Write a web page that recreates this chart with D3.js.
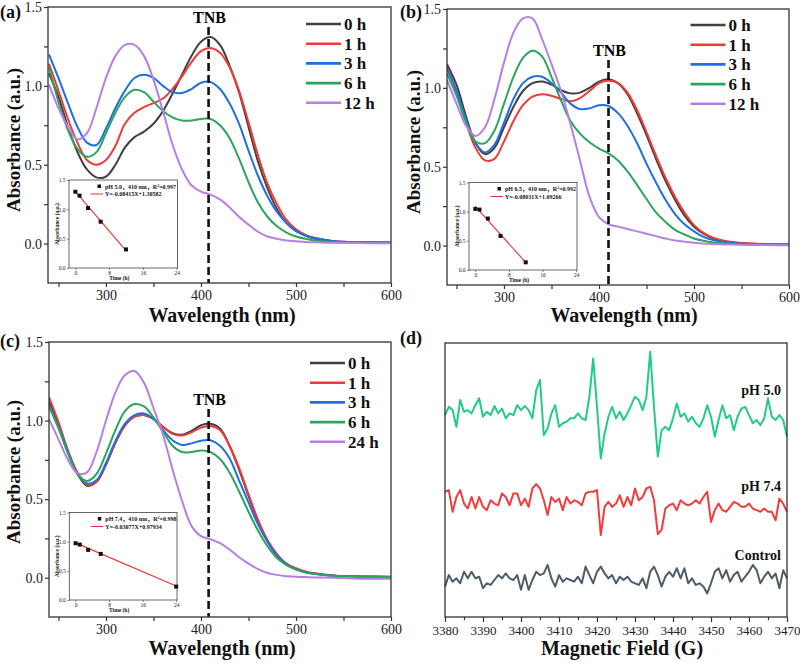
<!DOCTYPE html>
<html><head><meta charset="utf-8">
<script src="https://cdn.jsdelivr.net/npm/d3@7"></script>
<style>body{margin:0;background:#fff}svg{display:block}svg text{font-family:'Liberation Serif','DejaVu Serif',serif}</style>
</head><body><svg id="chart" width="800" height="663"></svg>
<script>
// ---------- DATA ----------
const wavelengths = [240,250,260,270,280,290,300,310,320,330,340,350,360,370,380,390,400,410,420,430,440,450,460,470,480,490,500,510,520,540,560,580,600];
const labelsAB = ["0 h","1 h","3 h","6 h","12 h"];
const labelsC  = ["0 h","1 h","3 h","6 h","24 h"];
const seriesColors = ["#404040","#f03a3a","#1f6fe0","#2aa55c","#b77fe6"];

// panel (a) pH 5.0
const a0h  = [1.08,0.93,0.74,0.58,0.47,0.42,0.425,0.50,0.61,0.675,0.71,0.76,0.84,0.95,1.07,1.19,1.28,1.31,1.26,1.13,0.96,0.74,0.52,0.35,0.22,0.13,0.08,0.05,0.03,0.015,0.01,0.008,0.007];
const a1h  = [1.14,0.97,0.79,0.64,0.53,0.50,0.53,0.62,0.76,0.83,0.865,0.89,0.92,0.98,1.06,1.15,1.22,1.24,1.21,1.12,0.97,0.77,0.56,0.38,0.25,0.15,0.09,0.055,0.035,0.015,0.01,0.008,0.007];
const a3h  = [1.20,1.05,0.89,0.74,0.64,0.625,0.73,0.86,0.97,1.05,1.07,1.05,1.00,0.96,0.955,0.98,1.02,1.025,0.98,0.89,0.76,0.59,0.43,0.30,0.20,0.13,0.08,0.05,0.035,0.015,0.01,0.008,0.007];
const a6h  = [1.12,0.90,0.72,0.60,0.55,0.58,0.70,0.83,0.93,0.975,0.96,0.90,0.84,0.80,0.78,0.78,0.79,0.79,0.75,0.67,0.54,0.39,0.26,0.17,0.11,0.07,0.045,0.03,0.02,0.01,0.008,0.007,0.006];
const a12h = [1.01,0.86,0.74,0.66,0.70,0.86,1.05,1.19,1.26,1.26,1.19,1.04,0.84,0.63,0.47,0.37,0.33,0.31,0.28,0.23,0.17,0.12,0.075,0.045,0.03,0.02,0.015,0.01,0.008,0.005,0.003,0.002,0.002];

// panel (b) pH 6.5
const b0h  = [1.15,1.02,0.82,0.65,0.58,0.62,0.75,0.88,0.98,1.03,1.04,1.02,0.985,0.965,0.97,1.00,1.04,1.055,1.03,0.96,0.84,0.70,0.55,0.41,0.29,0.19,0.12,0.075,0.045,0.02,0.012,0.008,0.006];
const b1h  = [1.13,0.98,0.78,0.62,0.54,0.55,0.66,0.79,0.89,0.945,0.96,0.95,0.93,0.915,0.935,0.98,1.03,1.045,1.03,0.97,0.86,0.72,0.57,0.43,0.31,0.21,0.13,0.08,0.05,0.022,0.013,0.009,0.007];
const b3h  = [1.12,0.98,0.80,0.65,0.59,0.64,0.78,0.93,1.03,1.07,1.07,1.03,0.97,0.90,0.865,0.87,0.89,0.885,0.84,0.76,0.65,0.52,0.40,0.29,0.20,0.135,0.09,0.055,0.035,0.017,0.01,0.007,0.006];
const b6h  = [1.09,0.95,0.78,0.66,0.65,0.73,0.90,1.07,1.19,1.235,1.20,1.07,0.92,0.79,0.71,0.655,0.615,0.585,0.54,0.47,0.385,0.295,0.21,0.15,0.10,0.07,0.045,0.03,0.02,0.012,0.008,0.006,0.005];
const b12h = [1.05,0.90,0.76,0.695,0.75,0.93,1.16,1.35,1.44,1.44,1.31,1.15,0.98,0.77,0.54,0.31,0.18,0.135,0.12,0.105,0.09,0.075,0.06,0.045,0.032,0.025,0.018,0.013,0.01,0.006,0.004,0.003,0.002];

// panel (c) pH 7.4
const c0h  = [1.12,0.97,0.80,0.66,0.585,0.61,0.72,0.86,0.97,1.025,1.035,1.01,0.96,0.92,0.91,0.935,0.97,0.98,0.95,0.84,0.69,0.52,0.36,0.23,0.14,0.085,0.055,0.035,0.025,0.012,0.008,0.006,0.005];
const c1h  = [1.15,0.99,0.81,0.67,0.59,0.61,0.72,0.86,0.97,1.025,1.035,1.01,0.96,0.915,0.905,0.925,0.955,0.965,0.94,0.84,0.70,0.53,0.37,0.24,0.15,0.09,0.06,0.04,0.028,0.014,0.009,0.007,0.006];
const c3h  = [1.10,0.96,0.80,0.66,0.60,0.62,0.73,0.87,0.98,1.035,1.045,1.01,0.94,0.875,0.845,0.855,0.872,0.875,0.84,0.76,0.62,0.48,0.34,0.23,0.14,0.085,0.055,0.035,0.025,0.012,0.008,0.006,0.005];
const c6h  = [1.09,0.95,0.79,0.66,0.615,0.66,0.79,0.94,1.06,1.105,1.09,1.02,0.93,0.84,0.80,0.80,0.81,0.80,0.755,0.67,0.55,0.42,0.30,0.20,0.125,0.08,0.052,0.034,0.024,0.012,0.008,0.006,0.005];
const c24h = [1.01,0.88,0.75,0.665,0.67,0.80,1.00,1.18,1.29,1.315,1.24,1.08,0.91,0.69,0.49,0.33,0.265,0.245,0.22,0.18,0.13,0.09,0.055,0.03,0.018,0.01,0.006,0.004,0.002,0.0,-0.005,-0.006,-0.006];

const tnbWavelengths = [408, 410, 408];

// insets (absorbance at 410 nm vs time)
const insetTimesAB = [0,1,3,6,12];
const insetTimesC  = [0,1,3,6,24];
const insetA = [1.30,1.233,1.022,0.789,0.317];
const insetB = [1.047,1.036,0.882,0.584,0.132];
const insetC = [0.973,0.950,0.859,0.790,0.23];
const fitSlopes = [-0.08415,-0.08031,-0.03077];
const fitIntercepts = [1.30582,1.09266,0.97934];
const insetLegend1 = [["pH 5.0，410 nm，R","2","=0.997"],["pH 6.5，410 nm，R","2","=0.992"],["pH 7.4，410 nm，R","2","=0.998"]];
const insetLegend2 = ["Y=-0.08415X+1.30582","Y=-0.08031X+1.09266","Y=-0.03077X+0.97934"];

// panel (d) EPR
const eprFields = d3.range(3380, 3471, 1);
const eprPH50 = [-0.6,2.4,1.2,-4.9,4.9,0.6,1.2,0,3.0,5.5,-1.2,0.6,-0.6,2.7,0,1.8,-1.8,0,-0.6,3.0,1.2,2.7,1.2,-1.8,8.5,12.2,-8.0,-5.5,0,3.0,-4.9,-3.6,-3.0,-1.8,-1.8,0,-1.8,-2.4,6.1,20.0,2.4,-16.4,-7.3,-1.2,2.4,-1.8,0.6,-2.4,0,3.0,6.1,4.9,1.2,6.1,22.5,2.4,-15.8,-6.1,-4.9,-6.1,-1.8,3.6,-1.2,0,-3.0,-1.2,-3.6,-4.9,-1.8,3.0,-1.2,-8.5,-2.4,3.0,-1.8,-0.6,-6.1,-1.2,1.8,2.4,-0.6,-3.6,-2.4,-4.3,-1.8,5.5,-1.2,-2.4,-0.6,-2.4,-8.5];
const eprPH74 = [4.9,5.5,-2.4,3.0,5.5,0.6,-1.2,3.0,-1.2,3.0,-0.6,-1.8,1.8,0.6,0,4.3,3.0,0,4.3,4.3,0,2.4,-0.6,6.1,7.7,6.1,1.8,-3.6,3.0,1.2,2.4,-1.8,3.0,0.6,1.8,1.2,0,4.3,4.9,4.9,5.5,-10.9,-0.6,1.2,-0.6,0.6,3.6,-0.6,3.0,0,6.1,1.8,3.0,6.1,6.7,1.8,-10.5,-9.0,-1.2,0,0.6,-1.8,1.8,0.6,0,0.6,1.8,0.6,3.0,4.9,-6.1,-1.8,0.6,-1.8,-2.4,-0.6,1.2,0.6,-0.6,-0.6,0.6,-1.2,-1.8,-2.4,-1.2,-2.4,-2.4,-5.5,2.4,0.6,-2.4];
const eprControl = [-2.4,1.8,-0.6,0.6,-1.2,3.0,0.6,3.0,0.6,1.2,-3.0,-1.2,-1.8,0,1.8,0.6,2.4,0.6,0,1.8,-3.6,1.8,-3.6,0,3.0,1.8,2.4,5.5,0.6,-2.4,1.8,-0.6,0.6,0,-0.6,1.2,-1.2,4.9,1.8,-1.2,3.0,4.9,2.4,0.6,1.8,-1.2,1.2,0,1.2,-0.6,-1.2,-1.8,0.6,-3.0,3.0,4.9,1.8,-2.4,1.2,3.0,1.2,4.3,0.6,4.3,-1.2,0.6,-1.8,-1.2,-2.4,-4.9,-1.2,3.0,4.3,0.6,3.6,-0.6,1.8,3.0,-0.6,1.2,3.0,5.5,3.6,-1.2,1.2,3.0,0.6,2.4,-3.0,3.6,0.6];
const eprLabels = ["pH 5.0","pH 7.4","Control"];
const eprOffsets = [74.3, 40.8, 13.5];
const eprColors = ["#22cc88","#f23c3c","#4e5c68"];
const eprTicks = [3380,3390,3400,3410,3420,3430,3440,3450,3460,3470];

// ---------- DRAWING ----------
const SERIF = "'Liberation Serif','DejaVu Serif',serif";
const CJK = "'Liberation Serif','Noto Sans CJK SC','DejaVu Serif',serif";
const svg = d3.select("#chart");
svg.append("rect").attr("width",800).attr("height",663).attr("fill","#fff");

function styleAxis(g, fs){
  g.attr("font-family",null);
  g.select(".domain").remove();
  g.selectAll(".tick line").attr("stroke","#333").attr("stroke-width",1.2);
  g.selectAll(".tick text").style("font-family",SERIF).style("font-size",fs+"px").attr("fill","#222");
}
function txt(g){ return g.append("text").style("font-family",SERIF); }

function spectrumPanel(p){
  const g = svg.append("g");
  const x = d3.scaleLinear().domain(p.xDomain).range([p.left,p.right]);
  const y = d3.scaleLinear().domain([-0.25,1.5]).range([p.bottom,p.top]);
  const major = new Set([300,400,500,600]);
  g.append("g").attr("transform",`translate(0,${p.bottom})`)
    .call(d3.axisBottom(x).tickValues([250,300,350,400,450,500,550,600]).tickSize(4).tickSizeOuter(0).tickPadding(3)
      .tickFormat(d=>major.has(d)?d:""))
    .call(a=>styleAxis(a,14));
  g.append("g").attr("transform",`translate(${p.left},0)`)
    .call(d3.axisLeft(y).tickValues([0,0.25,0.5,0.75,1.0,1.25,1.5]).tickSize(4).tickSizeOuter(0).tickPadding(2)
      .tickFormat(d=>(Math.round(d*100)%50===0)?d.toFixed(1):""))
    .call(a=>styleAxis(a,14));
  const clipId = "clip"+p.id;
  svg.append("clipPath").attr("id",clipId).append("rect")
    .attr("x",p.left).attr("y",p.top).attr("width",p.right-p.left).attr("height",p.bottom-p.top);
  const line = d3.line().x((d,i)=>x(wavelengths[i])).y(d=>y(d)).curve(d3.curveCatmullRom.alpha(0.5));
  const cg = g.append("g").attr("clip-path",`url(#${clipId})`);
  p.series.forEach((s,i)=>{
    cg.append("path").attr("d",line(s)).attr("fill","none").attr("stroke",seriesColors[i]).attr("stroke-width",2);
  });
  g.append("line").attr("x1",x(p.tnb)).attr("x2",x(p.tnb)).attr("y1",p.tnbTop).attr("y2",p.bottom)
    .attr("stroke","#111").attr("stroke-width",2.6).attr("stroke-dasharray","8,4");
  txt(g).attr("x",x(p.tnb)+1).attr("y",p.tnbTextY).attr("text-anchor","middle")
    .attr("font-weight","bold").attr("font-size",16).text("TNB");
  g.append("rect").attr("x",p.left).attr("y",p.top).attr("width",p.right-p.left).attr("height",p.bottom-p.top)
    .attr("fill","none").attr("stroke","#333").attr("stroke-width",1.3);
  p.labels.forEach((lab,i)=>{
    const yy = p.legY + i*19.7;
    g.append("line").attr("x1",p.legX).attr("x2",p.legX+35).attr("y1",yy).attr("y2",yy)
      .attr("stroke",seriesColors[i]).attr("stroke-width",2.6);
    txt(g).attr("x",p.legX+38).attr("y",yy+6).attr("font-weight","bold")
      .attr("font-size",17).attr("fill","#111").text(lab);
  });
  txt(g).attr("transform",`translate(${p.yTitleX},${p.yTitleY}) rotate(-90)`).attr("text-anchor","middle")
    .attr("font-weight","bold").attr("font-size",19).attr("fill","#111").text("Absorbance (a.u.)");
  txt(g).attr("x",p.xTitleX).attr("y",p.xTitleY).attr("text-anchor","middle")
    .attr("font-weight","bold").attr("font-size",20).attr("fill","#111").text("Wavelength (nm)");
  txt(g).attr("x",p.tagX).attr("y",p.tagY).attr("font-weight","bold")
    .attr("font-size",18).attr("fill","#111").text(p.tag);
}

function insetPanel(p){
  const g = svg.append("g");
  const x = d3.scaleLinear().domain([-1.5,24.2]).range([p.left,p.right]);
  const y = d3.scaleLinear().domain([0,1.5]).range([p.bottom,p.top]);
  g.append("rect").attr("x",p.left).attr("y",p.top).attr("width",p.right-p.left).attr("height",p.bottom-p.top)
    .attr("fill","#fff").attr("stroke","#444").attr("stroke-width",0.8);
  g.append("g").attr("transform",`translate(0,${p.bottom})`)
    .call(d3.axisBottom(x).tickValues([0,8,16,24]).tickSize(2).tickSizeOuter(0).tickPadding(1.5))
    .call(a=>styleAxis(a,5.5)).call(a=>a.selectAll(".tick line").attr("stroke-width",0.6));
  g.append("g").attr("transform",`translate(${p.left},0)`)
    .call(d3.axisLeft(y).tickValues([0,0.5,1.0,1.5]).tickSize(2).tickSizeOuter(0).tickPadding(1.5).tickFormat(d3.format(".1f")))
    .call(a=>styleAxis(a,5.5)).call(a=>a.selectAll(".tick line").attr("stroke-width",0.6));
  const tMax = d3.max(p.times);
  g.append("line").attr("x1",x(0)).attr("x2",x(tMax)).attr("y1",y(p.b)).attr("y2",y(p.b+p.k*tMax))
    .attr("stroke","#f03030").attr("stroke-width",1.1);
  g.selectAll("rect.pt").data(p.values).join("rect").attr("class","pt")
    .attr("x",(d,i)=>x(p.times[i])-2).attr("y",d=>y(d)-2).attr("width",4).attr("height",4).attr("fill","#111");
  g.append("rect").attr("x",p.left+28.5).attr("y",p.top+4.5).attr("width",3.5).attr("height",3.5).attr("fill","#111");
  const t1 = g.append("text").attr("x",p.left+36).attr("y",p.top+8.5).style("font-family",CJK).attr("font-weight","bold").attr("font-size",6).attr("fill","#111");
  t1.append("tspan").text(p.leg1[0]);
  t1.append("tspan").attr("dy",-2).attr("font-size",4).text(p.leg1[1]);
  t1.append("tspan").attr("dy",2).text(p.leg1[2]);
  g.append("line").attr("x1",p.left+21.5).attr("x2",p.left+34).attr("y1",p.top+14).attr("y2",p.top+14)
    .attr("stroke","#f03030").attr("stroke-width",1);
  txt(g).attr("x",p.left+36).attr("y",p.top+16).attr("font-weight","bold")
    .attr("font-size",6).attr("fill","#111").text(p.leg2);
  txt(g).attr("transform",`translate(${p.left-10},${(p.top+p.bottom)/2}) rotate(-90)`).attr("text-anchor","middle")
    .attr("font-weight","bold").attr("font-size",5.5).attr("fill","#111").text("Absorbance (a.u.)");
  txt(g).attr("x",(p.left+p.right)/2-4).attr("y",p.bottom+12).attr("text-anchor","middle")
    .attr("font-weight","bold").attr("font-size",5.5).attr("fill","#111").text("Time (h)");
}

spectrumPanel({id:"a",left:48,right:391,top:7,bottom:283,xDomain:[239,600],series:[a0h,a1h,a3h,a6h,a12h],labels:labelsAB,
  tnb:tnbWavelengths[0],tnbTop:27,tnbTextY:23,legX:306,legY:24,yTitleX:20,yTitleY:140,xTitleX:222,xTitleY:322,tag:"(a)",tagX:0,tagY:18});
spectrumPanel({id:"b",left:447,right:789,top:9,bottom:285,xDomain:[240,600],series:[b0h,b1h,b3h,b6h,b12h],labels:labelsAB,
  tnb:tnbWavelengths[1],tnbTop:60,tnbTextY:56,legX:690.5,legY:25,yTitleX:420,yTitleY:142,xTitleX:624,xTitleY:322,tag:"(b)",tagX:400,tagY:18});
spectrumPanel({id:"c",left:49,right:391,top:342,bottom:617,xDomain:[240,600],series:[c0h,c1h,c3h,c6h,c24h],labels:labelsC,
  tnb:tnbWavelengths[2],tnbTop:409,tnbTextY:405,legX:310,legY:363,yTitleX:20,yTitleY:472,xTitleX:222,xTitleY:655,tag:"(c)",tagX:0,tagY:347});

insetPanel({left:69,right:177.5,top:180,bottom:268,times:insetTimesAB,values:insetA,k:fitSlopes[0],b:fitIntercepts[0],leg1:insetLegend1[0],leg2:insetLegend2[0]});
insetPanel({left:469,right:577,top:182.5,bottom:270,times:insetTimesAB,values:insetB,k:fitSlopes[1],b:fitIntercepts[1],leg1:insetLegend1[1],leg2:insetLegend2[1]});
insetPanel({left:69.3,right:177,top:512.5,bottom:600,times:insetTimesC,values:insetC,k:fitSlopes[2],b:fitIntercepts[2],leg1:insetLegend1[2],leg2:insetLegend2[2]});

// panel (d)
(function(){
  const L=445,R=787,T=343,B=617;
  const g = svg.append("g");
  const x = d3.scaleLinear().domain([3380,3470]).range([L,R]);
  const y = d3.scaleLinear().domain([0,100]).range([B,T]);
  const minor = d3.range(3385,3470,10);
  g.append("g").attr("transform",`translate(0,${B})`)
    .call(d3.axisBottom(x).tickValues(minor).tickSize(3).tickSizeOuter(0).tickFormat(""))
    .call(a=>styleAxis(a,13));
  g.append("g").attr("transform",`translate(0,${B})`)
    .call(d3.axisBottom(x).tickValues(eprTicks).tickSize(5).tickSizeOuter(0).tickPadding(4).tickFormat(d3.format("d")))
    .call(a=>styleAxis(a,13));
  const series=[eprPH50,eprPH74,eprControl];
  series.forEach((s,k)=>{
    const line=d3.line().x((d,i)=>x(eprFields[i])).y(d=>y(d+eprOffsets[k]));
    g.append("path").attr("d",line(s)).attr("fill","none").attr("stroke",eprColors[k]).attr("stroke-width",2).attr("stroke-linejoin","round");
  });
  const labY=[395,491,560];
  eprLabels.forEach((t,k)=>{
    txt(g).attr("x",781).attr("y",labY[k]).attr("text-anchor","end")
      .attr("font-weight","bold").attr("font-size",14).attr("fill","#111").text(t);
  });
  g.append("rect").attr("x",L).attr("y",T).attr("width",R-L).attr("height",B-T).attr("fill","none").attr("stroke","#333").attr("stroke-width",1.3);
  txt(g).attr("x",622).attr("y",655).attr("text-anchor","middle")
    .attr("font-weight","bold").attr("font-size",20).attr("fill","#111").text("Magnetic Field (G)");
  txt(g).attr("x",400).attr("y",344).attr("font-weight","bold")
    .attr("font-size",18).attr("fill","#111").text("(d)");
})();
</script></body></html>
